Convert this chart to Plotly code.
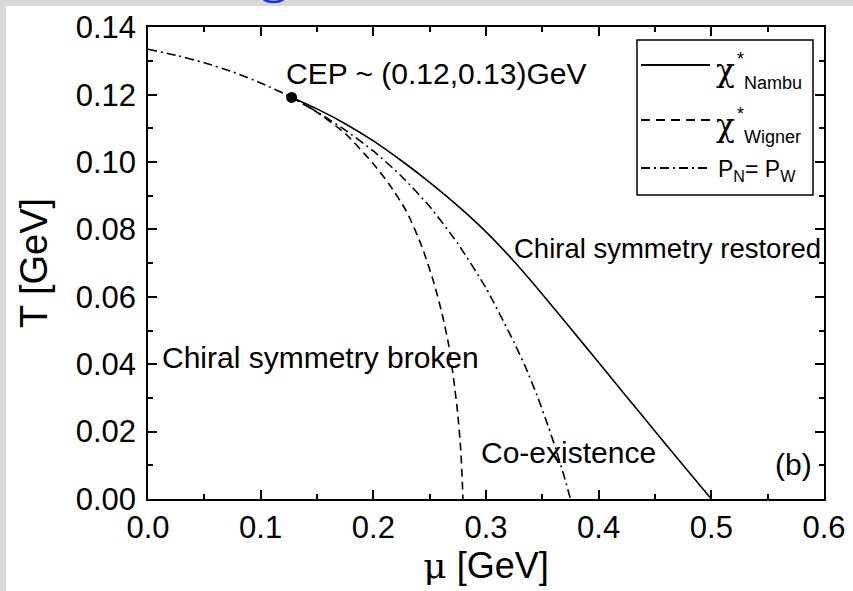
import plotly.graph_objects as go

# ---------------- data ----------------
mu_nambu = [0.1275, 0.15, 0.175, 0.2, 0.225, 0.25, 0.275, 0.3, 0.325, 0.35, 0.375, 0.4, 0.425, 0.45, 0.475, 0.5]
T_nambu = [0.1192, 0.1158, 0.1114, 0.1063, 0.1004, 0.0940, 0.0870, 0.0793, 0.0705, 0.0608, 0.0507, 0.0405, 0.0303, 0.0201, 0.0100, 0.0]

mu_wigner = [0.1275, 0.15, 0.175, 0.2, 0.215, 0.23, 0.243, 0.253, 0.261, 0.267, 0.2715, 0.275, 0.2775, 0.279, 0.2795]
T_wigner = [0.1192, 0.1148, 0.1085, 0.0995, 0.0930, 0.0850, 0.0750, 0.0650, 0.0550, 0.0455, 0.0350, 0.0250, 0.0150, 0.0050, 0.0]

mu_pnpw = [0.0, 0.025, 0.05, 0.075, 0.1, 0.1275, 0.15, 0.175, 0.2, 0.225, 0.25, 0.275, 0.3, 0.325, 0.335, 0.345, 0.355, 0.362, 0.369, 0.375]
T_pnpw = [0.1335, 0.1317, 0.1295, 0.1268, 0.1235, 0.1192, 0.1149, 0.1095, 0.1033, 0.0958, 0.0868, 0.0758, 0.0626, 0.0464, 0.0392, 0.0310, 0.0218, 0.0148, 0.0071, 0.0]

cep_mu = [0.1275]
cep_T = [0.1192]

x_range = [0, 0.6]
y_range = [0, 0.1401]
x_tick_step = 0.1
y_tick_step = 0.02

# ---------------- layout helpers ----------------
W, H = 853, 591
ML, MR, MT, MB = 148, 29, 27, 92
PW = W - ML - MR
PH = H - MT - MB


def px2x(px):
    return (px - ML) / PW


def px2y(py):
    return (H - MB - py) / PH


SANS = "Liberation Sans"
SERIF = "DejaVu Serif"
BLACK = "black"
GREY = "#d8d8d8"
LINE_SHAPE = dict(shape="spline", smoothing=0.6)

fig = go.Figure()

fig.add_trace(go.Scatter(x=mu_nambu, y=T_nambu, mode="lines", name="χ*Nambu",
                         line=dict(color=BLACK, width=1.6, **LINE_SHAPE), showlegend=False))
fig.add_trace(go.Scatter(x=mu_wigner, y=T_wigner, mode="lines", name="χ*Wigner",
                         line=dict(color=BLACK, width=1.6, dash="8px,5px", **LINE_SHAPE), showlegend=False))
fig.add_trace(go.Scatter(x=mu_pnpw, y=T_pnpw, mode="lines", name="PN=PW",
                         line=dict(color=BLACK, width=1.6, dash="9px,4px,2px,4px", **LINE_SHAPE), showlegend=False))
fig.add_trace(go.Scatter(x=cep_mu, y=cep_T, mode="markers", name="CEP",
                         marker=dict(color=BLACK, size=11), showlegend=False))

shapes = []
# slide background: grey strips on the left and top edges
shapes.append(dict(type="rect", xref="paper", yref="paper",
                   x0=px2x(-5), x1=px2x(6), y0=px2y(H + 5), y1=px2y(-5),
                   fillcolor=GREY, line=dict(width=0)))
shapes.append(dict(type="rect", xref="paper", yref="paper",
                   x0=px2x(-5), x1=px2x(W + 5), y0=px2y(6), y1=px2y(-5),
                   fillcolor=GREY, line=dict(width=0)))
# partial blue letter from the slide title above
shapes.append(dict(type="circle", xref="paper", yref="paper",
                   x0=px2x(258), x1=px2x(289), y0=px2y(2), y1=px2y(-22),
                   line=dict(color="#1f2fe0", width=2.5)))

# legend box and samples
shapes.append(dict(type="rect", xref="paper", yref="paper",
                   x0=px2x(637), x1=px2x(813), y0=px2y(195), y1=px2y(40),
                   line=dict(color=BLACK, width=1.5), fillcolor="rgba(0,0,0,0)"))
leg_y = [65, 120, 168]
leg_dash = ["solid", "9px,6px", "9px,4px,2px,4px"]
for yy, dd in zip(leg_y, leg_dash):
    shapes.append(dict(type="line", xref="paper", yref="paper",
                       x0=px2x(641), x1=px2x(710), y0=px2y(yy), y1=px2y(yy),
                       line=dict(color=BLACK, width=2.2 if dd == "solid" else 2.0, dash=dd)))

ann = []


def text_data(x, y, t, size=30):
    ann.append(dict(x=x, y=y, xref="x", yref="y", text=t, showarrow=False,
                    xanchor="left", yanchor="middle",
                    font=dict(family=SANS, size=size, color=BLACK)))


text_data(0.121, 0.1264, "CEP ~ (0.12,0.13)GeV")
text_data(0.323, 0.0745, "Chiral symmetry restored", 27.5)
text_data(0.011, 0.0421, "Chiral symmetry broken")
text_data(0.294, 0.0139, "Co-existence")
text_data(0.555, 0.0101, "(b)")


def text_px(px, py, t, size, family=SANS, anchor="left"):
    ann.append(dict(x=px2x(px), y=px2y(py), xref="paper", yref="paper", text=t,
                    showarrow=False, xanchor=anchor, yanchor="middle",
                    font=dict(family=family, size=size, color=BLACK)))


# legend labels
text_px(714, 70, "χ", 31, SERIF)
text_px(735, 59, "*", 18)
text_px(742, 83, "Nambu", 18)
text_px(714, 125, "χ", 31, SERIF)
text_px(735, 114, "*", 18)
text_px(742, 137, "Wigner", 18)
text_px(716, 170, "P<sub>N</sub>= P<sub>W</sub>", 23)

fig.update_layout(
    width=W, height=H,
    margin=dict(l=ML, r=MR, t=MT, b=MB, autoexpand=False),
    paper_bgcolor="white", plot_bgcolor="white",
    showlegend=False,
    shapes=shapes,
    annotations=ann,
)

fig.update_xaxes(
    range=x_range, tickmode="linear", tick0=0, dtick=x_tick_step, tickformat=".1f",
    showline=True, linecolor=BLACK, linewidth=1.6, mirror="allticks",
    ticks="inside", ticklen=9, tickwidth=1.8, tickcolor=BLACK,
    minor=dict(ticks="inside", ticklen=5, tickwidth=1.8, tickcolor=BLACK, dtick=x_tick_step / 2, tick0=0),
    showgrid=False, zeroline=False,
    tickfont=dict(family=SANS, size=31, color=BLACK),
    title=dict(text="<span style=\"font-family:'DejaVu Serif'\">μ</span> [GeV]",
               font=dict(family=SANS, size=36, color=BLACK), standoff=8),
)
fig.update_yaxes(
    range=y_range, tickmode="linear", tick0=0, dtick=y_tick_step, tickformat=".2f",
    showline=True, linecolor=BLACK, linewidth=1.6, mirror="allticks",
    ticks="inside", ticklen=9, tickwidth=1.8, tickcolor=BLACK,
    minor=dict(ticks="inside", ticklen=5, tickwidth=1.8, tickcolor=BLACK, dtick=y_tick_step / 2, tick0=0),
    showgrid=False, zeroline=False, ticklabelstandoff=4,
    tickfont=dict(family=SANS, size=31, color=BLACK),
    title=dict(text="T [GeV]", font=dict(family=SANS, size=38, color=BLACK), standoff=16),
)

fig.write_html("out.html")
